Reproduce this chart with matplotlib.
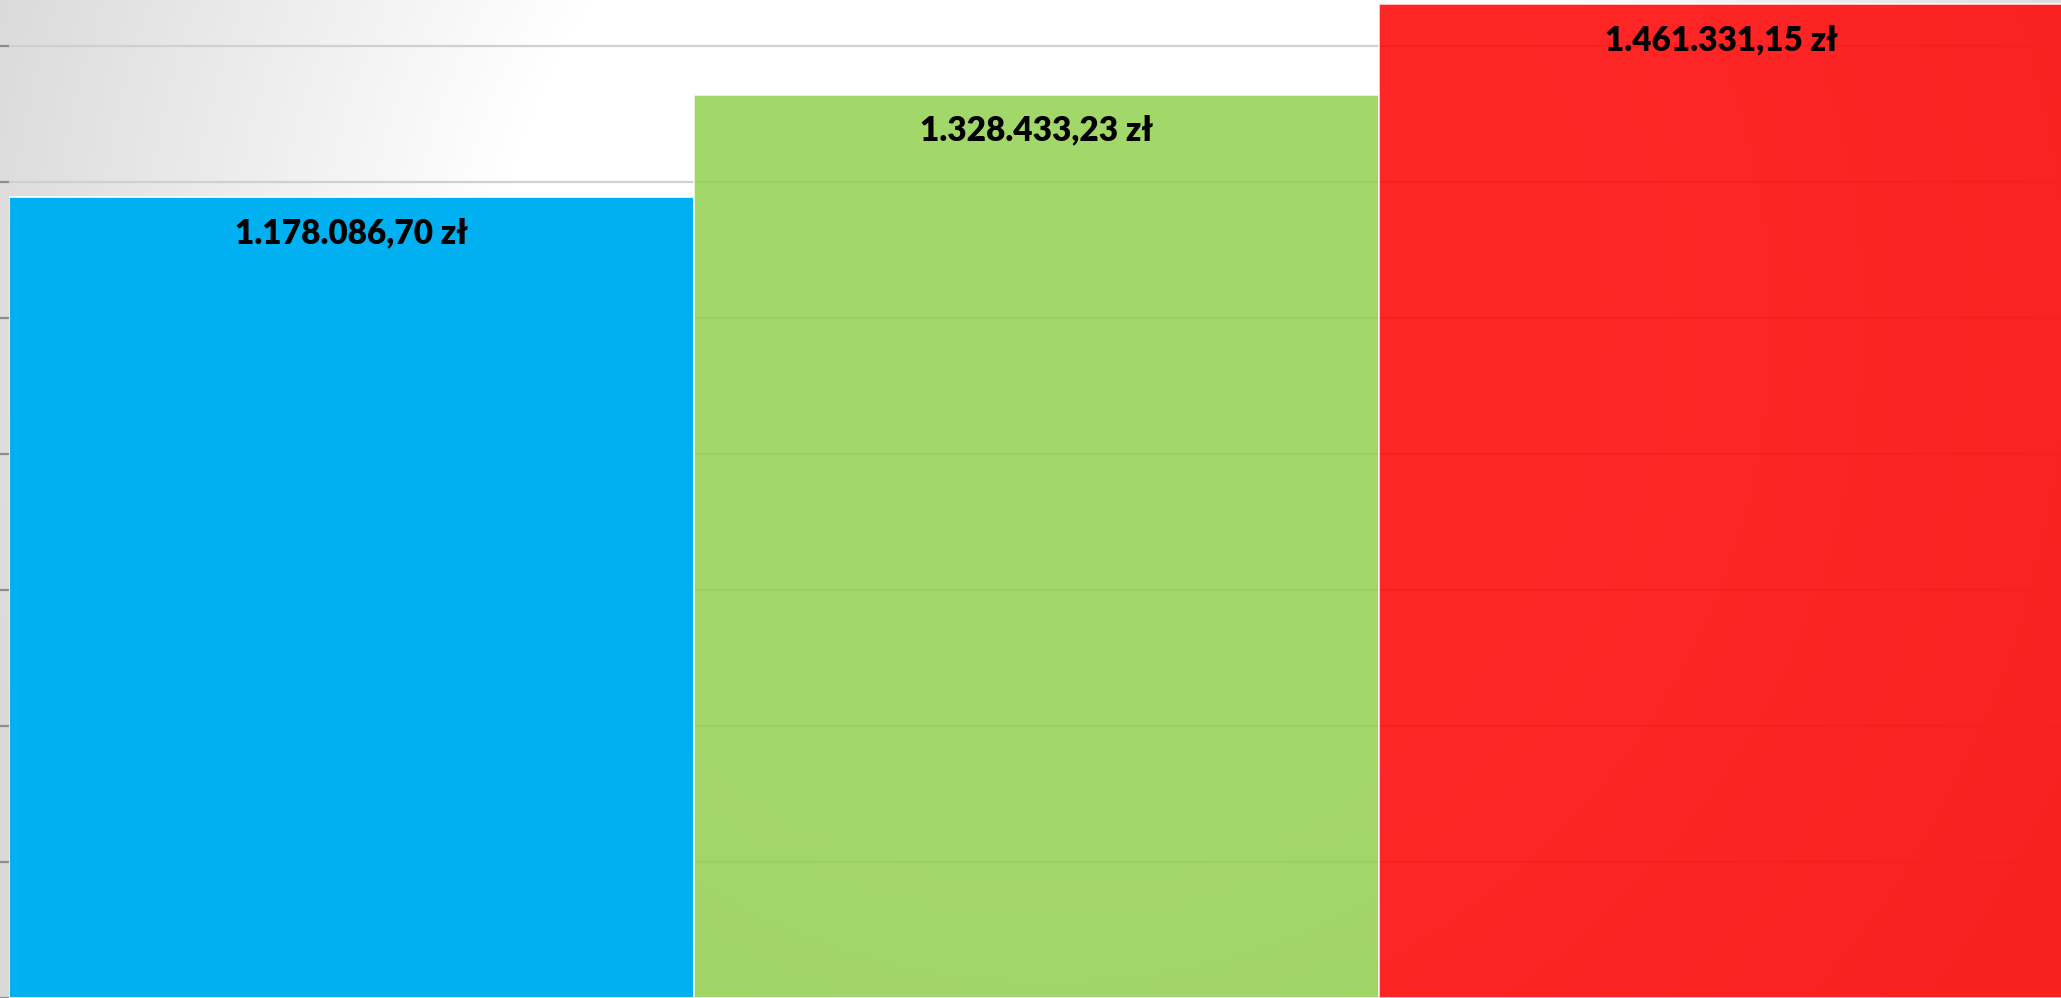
import numpy as np
import matplotlib
matplotlib.use("Agg")
import matplotlib.pyplot as plt

# data
categories = ["A", "B", "C"]
values = [1178086.70, 1328433.23, 1461331.15]
labels = ["1.178.086,70 zł", "1.328.433,23 zł", "1.461.331,15 zł"]
colors = ["#00B0F0", "#92D050", "#FF0000"]
alphas = [1.0, 0.85, 0.85]
yticks = [0, 200000, 400000, 600000, 800000, 1000000, 1200000, 1400000]

W, H, DPI = 2061, 998, 100
fig = plt.figure(figsize=(W / DPI, H / DPI), dpi=DPI)

# background gradient
bg = fig.add_axes([0, 0, 1, 1], zorder=0)
yy, xx = np.mgrid[0:H, 0:W]
d = np.sqrt((xx - 1050) ** 2 + (yy - 320) ** 2)
t = np.clip((d - 560) / 560.0, 0, 1)
g = (255 - 38 * t) / 255.0
img = np.dstack([g, g, g])
bg.imshow(img, aspect="auto", extent=[0, 1, 0, 1], origin="upper")
bg.set_axis_off()

ax = fig.add_axes([9 / W, 0, 2055 / W, 1], zorder=1)
ax.patch.set_alpha(0)
x = np.arange(len(categories))
for xi, v, c, a in zip(x, values, colors, alphas):
    ax.bar(xi, v, width=1.0, color=c, alpha=a, edgecolor=(1, 1, 1, 0.6),
           linewidth=1.2, zorder=3)

for xi, v, lab in zip(x, values, labels):
    ax.annotate(lab, xy=(xi, v), xytext=(0, -26), textcoords="offset points",
                ha="center", va="center", fontsize=24, fontweight="heavy",
                family="Lato", color="black", zorder=5)

ax.set_xlim(-0.5, 2.5)
ax.set_ylim(3400, 1467500)
ax.set_yticks(yticks)
ax.set_yticklabels([])
ax.set_xticks([])
ax.grid(axis="y", color="#D0D0D0", linewidth=1.6, zorder=1)
ax.set_axisbelow(True)
ax.tick_params(axis="y", direction="out", length=7, width=1.6, color="#8C8C8C")
for s in ax.spines.values():
    s.set_visible(False)

fig.savefig("out.png", dpi=DPI)
